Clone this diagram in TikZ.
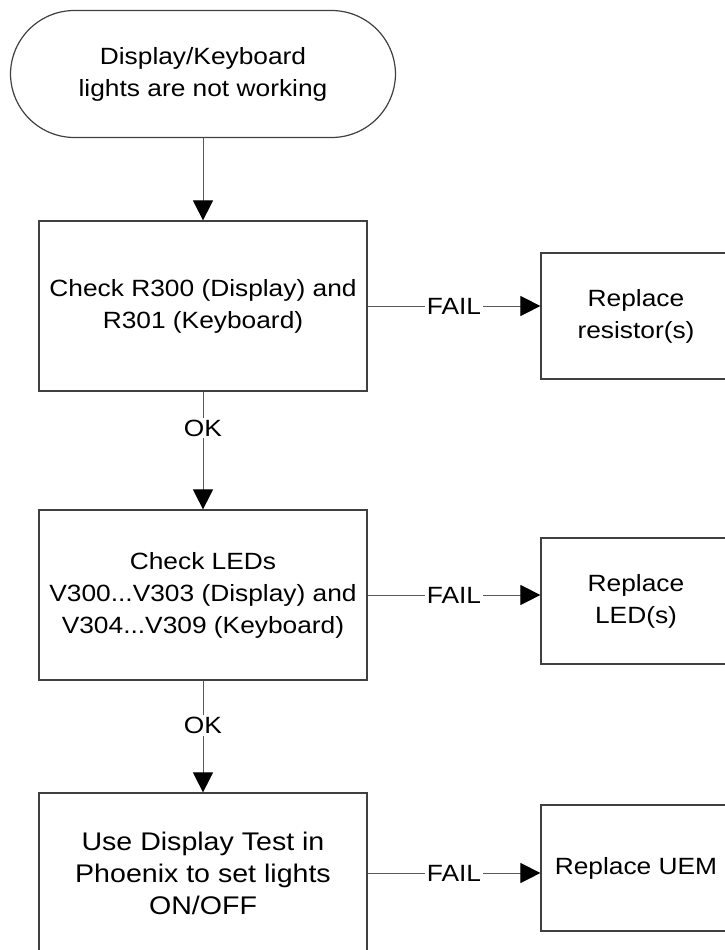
\documentclass[tikz,border=0pt]{standalone}
\usepackage{fontspec}
\setmainfont{Liberation Sans}[FakeStretch=1.12]
\usetikzlibrary{arrows.meta,positioning}

\begin{document}
\begin{tikzpicture}[x=1pt,y=-1pt,
  every node/.style={font=\fontsize{23.5}{32}\selectfont,align=center},
  chkbox/.style={draw=black!75,line width=1.2pt,minimum width=328pt,minimum height=170pt},
  fixbox/.style={draw=black!75,line width=1.2pt,minimum width=190pt,minimum height=126pt},
  flow/.style={draw=black!65,line width=1pt,-{Triangle[length=20pt,width=20pt,color=black]}},
  lbl/.style={fill=white,inner sep=2pt}]
\useasboundingbox (0,0) rectangle (725,950);
% left column: the checks
\node[draw=black!75,line width=1.2pt,rounded corners=64pt,minimum width=385pt,minimum height=127pt] (start) at (203,74) {Display/Keyboard\\lights are not working};
\node[chkbox] (chkres) at (203,306) {Check R300 (Display) and\\R301 (Keyboard)};
\node[chkbox] (chkled) at (203,595) {Check LEDs\\V300...V303 (Display) and\\V304...V309 (Keyboard)};
\node[chkbox,minimum height=160pt,font=\fontsize{25.5}{32}\selectfont] (chkuem) at (203,873) {Use Display Test in\\Phoenix to set lights\\ON/OFF};
% right column: the fixes
\node[fixbox] (fixres) at (636,316) {Replace\\resistor(s)};
\node[fixbox] (fixled) at (636,601) {Replace\\LED(s)};
\node[fixbox] (fixuem) at (636,868) {Replace UEM};
% connectors
\draw[flow] (start) -- (chkres);
\draw[flow] (chkres) -- node[lbl,pos=0.31] {OK} (chkled);
\draw[flow] (chkled) -- node[lbl,pos=0.4] {OK} (chkuem);
\foreach \a/\b in {chkres/fixres,chkled/fixled,chkuem/fixuem} % FAIL branches
  \draw[flow] (\a.east) -- node[lbl] {FAIL} (\a.east -| \b.west);
\end{tikzpicture}
\end{document}
